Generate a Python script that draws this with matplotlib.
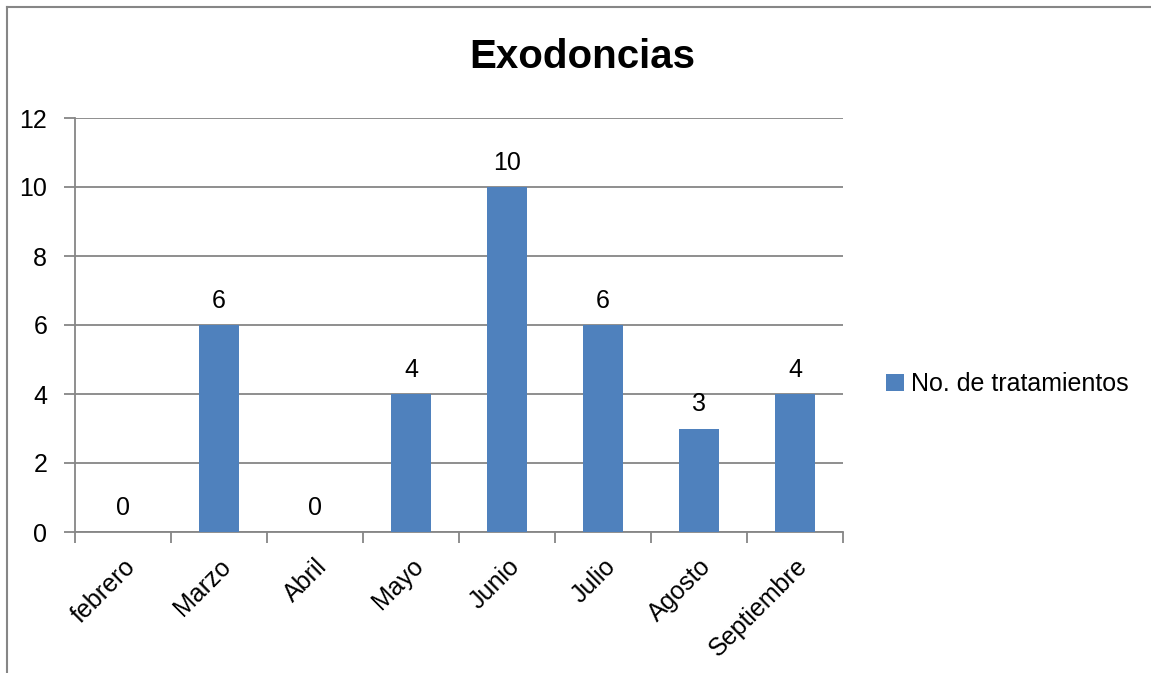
import matplotlib.pyplot as plt
from matplotlib.lines import Line2D

plt.rcParams['font.family'] = ['Liberation Sans', 'DejaVu Sans']

meses = ['febrero', 'Marzo', 'Abril', 'Mayo', 'Junio', 'Julio', 'Agosto', 'Septiembre']
tratamientos = [0, 6, 0, 4, 10, 6, 3, 4]
serie = 'No. de tratamientos'

azul = '#4f81bd'
gris = '#868686'
fs = 18

fig = plt.figure(figsize=(11.51, 6.73), dpi=100)
ax = fig.add_axes([75 / 1151, 1 - 532 / 673, 768 / 1151, 414 / 673])

x = list(range(len(meses)))
ax.bar(x, tratamientos, width=0.41, color=azul, label=serie, zorder=3)
for xi, v in zip(x, tratamientos):
    ax.text(xi, v + 0.36, str(v), ha='center', va='bottom', fontsize=fs)

ax.set_xlim(-0.5, len(meses) - 0.5)
ax.set_ylim(0, 12)
ax.set_yticks(range(0, 13, 2))
ax.yaxis.grid(True, color=gris, linewidth=1.3, zorder=0)
ax.tick_params(axis='y', length=8, width=1.3, color=gris, labelsize=fs, pad=12)

# category boundaries carry the ticks, names sit in between
ax.set_xticks([i - 0.5 for i in range(len(meses) + 1)])
ax.set_xticklabels([])
ax.tick_params(axis='x', length=8, width=1.3, color=gris)
ax.set_xticks(x, minor=True)
ax.set_xticklabels(meses, minor=True, rotation=45, ha='right', rotation_mode='anchor', fontsize=fs)
ax.tick_params(axis='x', which='minor', length=0, pad=16)

for s in ['top', 'right']:
    ax.spines[s].set_visible(False)
for s in ['left', 'bottom']:
    ax.spines[s].set_color(gris)
    ax.spines[s].set_linewidth(1.3)

fig.text(582 / 1151, 1 - 57 / 673, 'Exodoncias', ha='center', va='center',
         fontsize=29, fontweight='bold')

ax.legend(loc='center left', bbox_to_anchor=(811 / 768, (532 - 384) / 414), frameon=False,
          fontsize=fs, handlelength=0.7, handleheight=0.7, handletextpad=0.3,
          borderaxespad=0, borderpad=0)

# outer frame of the chart area
fig.add_artist(Line2D([7 / 1151, 7 / 1151], [0, 1 - 7 / 673], color=gris, lw=1.5,
                      transform=fig.transFigure))
fig.add_artist(Line2D([7 / 1151, 1], [1 - 7 / 673, 1 - 7 / 673], color=gris, lw=1.5,
                      transform=fig.transFigure))

fig.savefig('out.png', dpi=100)
